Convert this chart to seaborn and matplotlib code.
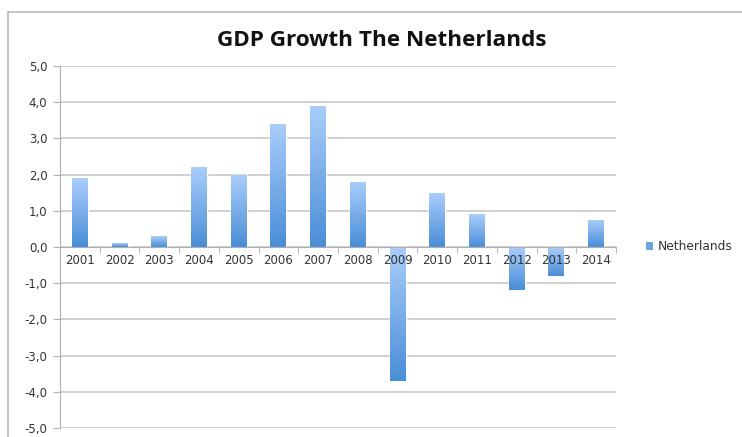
import numpy as np
import pandas as pd
import matplotlib
matplotlib.use("Agg")
import matplotlib.pyplot as plt
from matplotlib.colors import LinearSegmentedColormap
from matplotlib.patches import Patch
from matplotlib.lines import Line2D
import seaborn as sns

# data
years = ['2001', '2002', '2003', '2004', '2005', '2006', '2007',
         '2008', '2009', '2010', '2011', '2012', '2013', '2014']
growth = [1.9, 0.1, 0.3, 2.2, 2.0, 3.4, 3.9, 1.8, -3.7, 1.5, 0.9, -1.2, -0.8, 0.75]
y_ticks = [-5, -4, -3, -2, -1, 0, 1, 2, 3, 4, 5]
series_name = 'Netherlands'

df = pd.DataFrame({'year': years, 'growth': growth})

sns.set_style('white')
plt.rcParams['font.family'] = ['DejaVu Sans']

fig = plt.figure(figsize=(7.42, 4.37), dpi=100)
ax = fig.add_axes([60 / 742, 9 / 437, 556 / 742, 362 / 437])

sns.barplot(data=df, x='year', y='growth', color='#6aa5e8', width=0.4,
            saturation=1, ax=ax, zorder=3)

# excel-like vertical gradient on each bar: light at top, darker at bottom
grad = LinearSegmentedColormap.from_list('g', ['#aacdfb', '#4a8ed7'])
for p in ax.patches:
    x0, y0 = p.get_x(), p.get_y()
    w, h = p.get_width(), p.get_height()
    lo, hi = min(y0, y0 + h), max(y0, y0 + h)
    img = ax.imshow(np.linspace(0, 1, 64).reshape(-1, 1), cmap=grad,
                    extent=[x0, x0 + w, lo, hi], origin='upper',
                    aspect='auto', zorder=4)
    img.set_clip_path(p)

ax.set_xlim(-0.5, len(years) - 0.5)
ax.set_ylim(-5, 5)
ax.set_yticks(y_ticks)
ax.set_yticklabels([f'{v:.1f}'.replace('.', ',') for v in y_ticks])
ax.yaxis.grid(True, color='#c4c4c4', linewidth=1.1, zorder=0)
ax.set_axisbelow(True)
ax.xaxis.set_zorder(6)  # year labels sit on top of the negative bars
ax.set_xlabel('')
ax.set_ylabel('')

for s in ['top', 'right']:
    ax.spines[s].set_visible(False)
ax.spines['left'].set_color('#b0b0b0')
ax.spines['bottom'].set_color('#b0b0b0')
ax.spines['bottom'].set_position(('data', 0))
ax.spines['bottom'].set_zorder(5)

ax.tick_params(axis='y', length=5, color='#b0b0b0', labelsize=8.5,
               labelcolor='#333333', pad=4, left=True)
ax.set_xticks(np.arange(len(years)))
ax.set_xticklabels(years)
ax.set_xticks(np.arange(len(years) + 1) - 0.5, minor=True)
ax.tick_params(axis='x', which='major', length=0, labelsize=8.5,
               labelcolor='#333333', pad=5)
ax.tick_params(axis='x', which='minor', length=4, color='#b0b0b0', bottom=True)

fig.text(382 / 742, 1 - 40 / 437, 'GDP Growth The Netherlands',
         ha='center', va='center', fontsize=16.2, fontweight='bold',
         family=['Open Sans', 'DejaVu Sans'], color='#111111')

ax.legend(handles=[Patch(facecolor='#6aa5e8', edgecolor='none', label=series_name)],
          loc='center left', bbox_to_anchor=(635 / 742, 1 - 247 / 437),
          bbox_transform=fig.transFigure, frameon=False, fontsize=8.8,
          handlelength=0.6, handleheight=0.6, handletextpad=0.4,
          labelcolor='#333333')

# chart area frame
fig.add_artist(Line2D([8 / 742, 8 / 742], [0, 1 - 12 / 437],
                      transform=fig.transFigure, color='#b8b8b8', lw=1.2))
fig.add_artist(Line2D([8 / 742, 1], [1 - 12 / 437, 1 - 12 / 437],
                      transform=fig.transFigure, color='#b8b8b8', lw=1.2))

fig.savefig('out.png', dpi=100)
